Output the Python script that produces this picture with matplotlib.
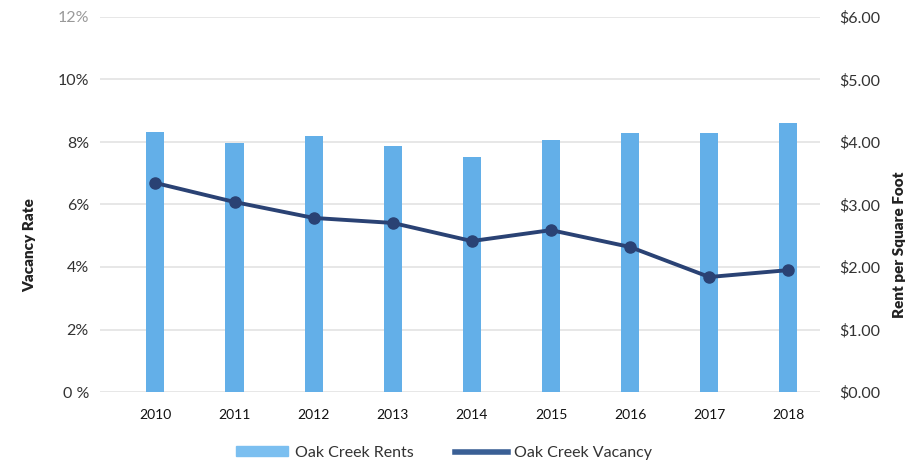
import matplotlib
matplotlib.use("Agg")
import matplotlib.pyplot as plt
from matplotlib.lines import Line2D
from matplotlib.patches import Patch

years = ["2010", "2011", "2012", "2013", "2014", "2015", "2016", "2017", "2018"]
rents = [4.16, 3.98, 4.10, 3.94, 3.76, 4.03, 4.14, 4.14, 4.30]
vacancy = [6.69, 6.08, 5.57, 5.41, 4.83, 5.18, 4.64, 3.68, 3.90]
left_ticks = [0, 2, 4, 6, 8, 10, 12]
left_labels = ["0 %", "2%", "4%", "6%", "8%", "10%", "12%"]
right_ticks = [0, 1, 2, 3, 4, 5, 6]
right_labels = ["$0.00", "$1.00", "$2.00", "$3.00", "$4.00", "$5.00", "$6.00"]

plt.rcParams['font.family'] = ['Lato', 'DejaVu Sans']

fig = plt.figure(figsize=(9.09, 4.63), dpi=100)
ax = fig.add_axes([100/909, 1-392/463, 720/909, 375/463])
ax2 = ax.twinx()

x = list(range(len(years)))
ax2.bar(x, rents, width=0.23, color="#63afe8", zorder=2)
ax2.set_ylim(0, 6)
ax.set_ylim(0, 12)
ax.set_xlim(-0.7, 8.4)

ax.set_zorder(ax2.get_zorder() + 1)
ax.patch.set_visible(False)
ax.plot(x, vacancy, color="#2a4274", lw=2.8, marker="o", ms=8, zorder=5)

for y in left_ticks:
    ax2.axhline(y/2, color="#e3e3e3", lw=1.2, zorder=0)

ax.set_yticks(left_ticks)
ax.set_yticklabels(left_labels)
ax2.set_yticks(right_ticks)
ax2.set_yticklabels(right_labels)
ax.set_xticks(x)
ax.set_xticklabels(years)

for a in (ax, ax2):
    for s in a.spines.values():
        s.set_visible(False)
    a.tick_params(length=0)
ax.tick_params(axis='y', labelsize=11.5, labelcolor="#333333", pad=8)
ax2.tick_params(axis='y', labelsize=11.5, labelcolor="#333333", pad=14)
ax.tick_params(axis='x', labelsize=10, labelcolor="#111111", pad=12)
ax.get_yticklabels()[-1].set_color("#999999")

fig.text(30/909, 1-245/463, "Vacancy Rate", rotation=90, ha="center", va="center",
         fontsize=11, fontweight="heavy", color="#222222")
fig.text(899/909, 1-245/463, "Rent per Square Foot", rotation=90, ha="center", va="center",
         fontsize=11, fontweight="heavy", color="#222222")

handles = [Patch(color="#7bbff0", label="Oak Creek Rents"),
           Line2D([0], [0], color="#3a5f95", lw=4, label="Oak Creek Vacancy")]
fig.legend(handles=handles, loc="center", bbox_to_anchor=(444/909, 1-453/463), ncol=2,
           frameon=False, fontsize=11.5, handlelength=3.3, handleheight=0.6,
           columnspacing=2.6, handletextpad=0.4, labelcolor="#333333")

fig.savefig("out.png", dpi=100, facecolor="white")
